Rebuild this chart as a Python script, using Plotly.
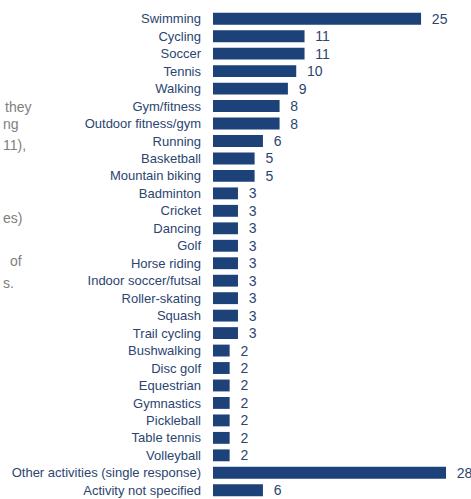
import plotly.graph_objects as go

# Activities and number of responses
activities = [
    "Swimming", "Cycling", "Soccer", "Tennis", "Walking", "Gym/fitness",
    "Outdoor fitness/gym", "Running", "Basketball", "Mountain biking",
    "Badminton", "Cricket", "Dancing", "Golf", "Horse riding",
    "Indoor soccer/futsal", "Roller-skating", "Squash", "Trail cycling",
    "Bushwalking", "Disc golf", "Equestrian", "Gymnastics", "Pickleball",
    "Table tennis", "Volleyball", "Other activities (single response)",
    "Activity not specified",
]
responses = [25, 11, 11, 10, 9, 8, 8, 6, 5, 5,
             3, 3, 3, 3, 3, 3, 3, 3, 3,
             2, 2, 2, 2, 2, 2, 2, 28, 6]

# Fragments of the neighbouring body text at the left edge
side_text = ["they", "ng", "11),", "es)", "of", "s."]

W, H = 471, 499
ML, MR, MT, MB = 213, 0, 10, 0
BAR = "#1d4179"
INK = "#2b4570"
FONT = "Liberation Sans"

fig = go.Figure(go.Bar(
    x=responses,
    y=activities,
    orientation="h",
    marker=dict(color=BAR, line=dict(width=0)),
    text=responses,
    texttemplate="  %{text}",
    textposition="outside",
    constraintext="none",
    textfont=dict(family=FONT, size=14, color=INK),
    cliponaxis=False,
    width=0.68,
))

plot_w = W - ML - MR
plot_h = H - MT - MB

def px_to_paper(px, py):
    return (px - ML) / plot_w, 1 - (py - MT) / plot_h

side_pos = [(3, 107), (1, 124), (1, 145), (1, 218), (8, 261), (1, 283)]
annotations = []
for txt, (px, py) in zip(side_text, side_pos):
    ax, ay = px_to_paper(px, py)
    annotations.append(dict(
        text=txt, x=ax, y=ay, xref="paper", yref="paper",
        xanchor="left", yanchor="middle", showarrow=False,
        font=dict(family=FONT, size=14, color="#808080"),
    ))

fig.update_layout(
    width=W, height=H,
    margin=dict(l=ML, r=MR, t=MT, b=MB, pad=0),
    paper_bgcolor="white", plot_bgcolor="white",
    showlegend=False,
    font=dict(family=FONT, size=13, color=INK),
    annotations=annotations,
    uniformtext=dict(mode=False),
    xaxis=dict(range=[0, 31], visible=False, fixedrange=True),
    yaxis=dict(
        autorange="reversed", showgrid=False, showline=False, zeroline=False,
        ticks="", ticklabelstandoff=11,
        tickfont=dict(family=FONT, size=13, color=INK),
    ),
)

fig.write_html("out.html")
